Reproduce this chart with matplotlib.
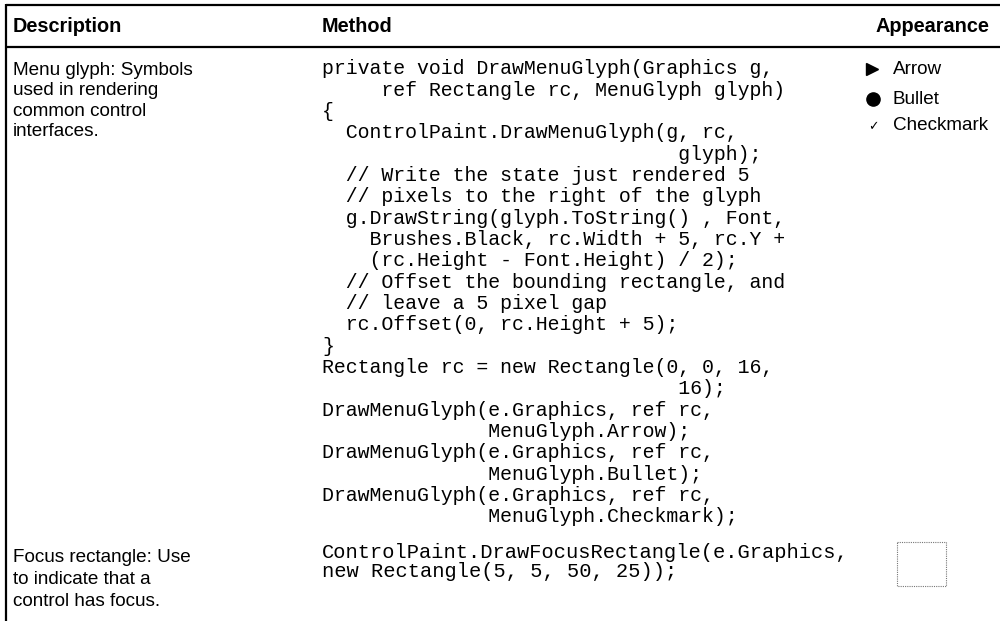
import matplotlib
matplotlib.use("Agg")
import matplotlib.pyplot as plt
from matplotlib.patches import Rectangle

# ---- table content ----
headers = ["Description", "Method", "Appearance"]

menu_desc = ["Menu glyph: Symbols", "used in rendering", "common control", "interfaces."]
menu_code = [
    "private void DrawMenuGlyph(Graphics g,",
    "     ref Rectangle rc, MenuGlyph glyph)",
    "{",
    "  ControlPaint.DrawMenuGlyph(g, rc,",
    "                              glyph);",
    "  // Write the state just rendered 5",
    "  // pixels to the right of the glyph",
    "  g.DrawString(glyph.ToString() , Font,",
    "    Brushes.Black, rc.Width + 5, rc.Y +",
    "    (rc.Height - Font.Height) / 2);",
    "  // Offset the bounding rectangle, and",
    "  // leave a 5 pixel gap",
    "  rc.Offset(0, rc.Height + 5);",
    "}",
    "Rectangle rc = new Rectangle(0, 0, 16,",
    "                              16);",
    "DrawMenuGlyph(e.Graphics, ref rc,",
    "              MenuGlyph.Arrow);",
    "DrawMenuGlyph(e.Graphics, ref rc,",
    "              MenuGlyph.Bullet);",
    "DrawMenuGlyph(e.Graphics, ref rc,",
    "              MenuGlyph.Checkmark);",
]
menu_glyph_labels = ["Arrow", "Bullet", "Checkmark"]

focus_desc = ["Focus rectangle: Use", "to indicate that a", "control has focus."]
focus_code = ["ControlPaint.DrawFocusRectangle(e.Graphics,",
              "new Rectangle(5, 5, 50, 25));"]

W, H = 1000, 621
fig = plt.figure(figsize=(W / 100, H / 100), dpi=100)
ax = fig.add_axes([0, 0, 1, 1])
ax.set_xlim(0, W)
ax.set_ylim(H, 0)
ax.axis("off")

SANS = "Liberation Sans"
MONO = "Liberation Mono"
fs_sans = 13.6
fs_head = 14.3
fs_mono = 14.3

# borders
ax.plot([6, W], [5, 5], color="black", lw=1.6, solid_capstyle="butt")
ax.plot([6, W], [47, 47], color="black", lw=1.6, solid_capstyle="butt")
ax.plot([6, 6], [4, H], color="black", lw=1.6, solid_capstyle="butt")

# headers
col_x = [13, 322, 876]
for x, h in zip(col_x, headers):
    ax.text(x, 27, h, fontfamily=SANS, fontweight="bold", fontsize=fs_head,
            va="center", ha="left", color="black")

# menu glyph row
y0 = 69
dy_desc = 20.3
for i, line in enumerate(menu_desc):
    ax.text(13, y0 + 1.5 + i * dy_desc, line, fontfamily=SANS, fontsize=fs_sans,
            va="center", ha="left")

dy_code = 21.33
for i, line in enumerate(menu_code):
    ax.text(322, y0 + i * dy_code, line, fontfamily=MONO, fontsize=fs_mono,
            va="center", ha="left")

glyph_y = [69, 99, 126]
ax.plot([872], [glyph_y[0]], marker=">", markersize=8, color="black", ls="none")
ax.plot([873], [glyph_y[1]], marker="o", markersize=9.5, color="black", ls="none")
ax.text(873, glyph_y[2] + 1, "\u2713", fontfamily="DejaVu Sans", fontsize=9,
        va="center", ha="center")
for y, lab in zip(glyph_y, menu_glyph_labels):
    ax.text(893, y, lab, fontfamily=SANS, fontsize=fs_sans, va="center", ha="left")

# focus rectangle row
y1 = 557
for i, line in enumerate(focus_desc):
    ax.text(13, y1 + i * 22, line, fontfamily=SANS, fontsize=fs_sans,
            va="center", ha="left")
for i, line in enumerate(focus_code):
    ax.text(322, 552 + i * 19.5, line, fontfamily=MONO, fontsize=14.7,
            va="center", ha="left")
ax.add_patch(Rectangle((897, 542), 49, 44, fill=False, ec="#777777",
                       lw=0.8, ls=(0, (1, 1))))

fig.savefig("out.png", dpi=100)
